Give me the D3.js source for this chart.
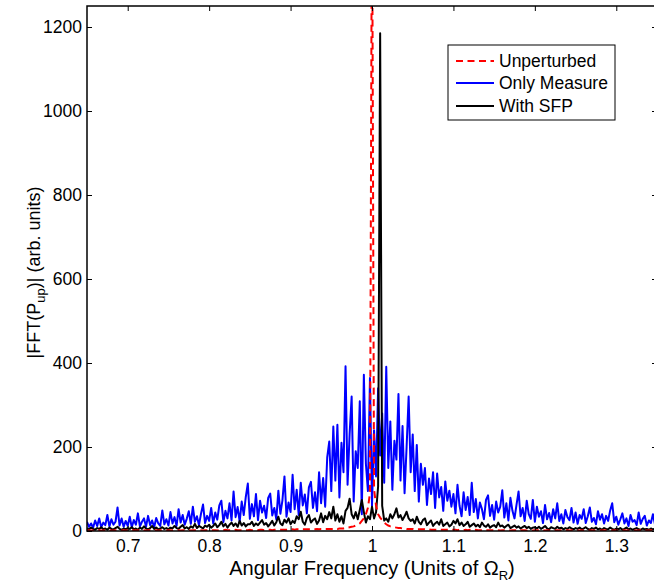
<!DOCTYPE html>
<html>
<head>
<meta charset="utf-8">
<script src="https://cdn.jsdelivr.net/npm/d3@7"></script>
<style>
    body { margin: 0; background: #fff; }
    svg { display: block; font-family: "Liberation Sans", Arial, Helvetica, sans-serif; }
</style>
</head>
<body>
<div id="fft-chart"></div>
<script>
// frequency grid (units of Omega_R)
var freq_start = 0.65;
var freq_step = 0.0025;

var unperturbed = [
    1, 2, 1, 1, 2, 1, 2, 1, 1, 2, 1, 2, 1, 1, 2, 1, 2, 1, 2, 1,
    2, 1, 2, 2, 1, 2, 1, 2, 2, 1, 2, 2, 1, 2, 2, 1, 2, 2, 2, 1,
    2, 2, 1, 2, 2, 2, 1, 2, 2, 2, 2, 1, 2, 2, 2, 2, 2, 1, 2, 2,
    2, 2, 2, 2, 1, 2, 2, 2, 3, 2, 2, 2, 2, 3, 2, 2, 2, 3, 2, 2,
    3, 2, 2, 3, 2, 3, 3, 2, 3, 3, 3, 2, 3, 3, 3, 3, 3, 3, 3, 3,
    3, 4, 3, 4, 4, 3, 4, 4, 4, 4, 4, 4, 4, 5, 4, 5, 5, 5, 5, 5,
    5, 5, 6, 5, 6, 6, 6, 7, 8, 9, 10, 11, 13, 15, 18, 24, 30, 40, 55, 90,
    1600, 100, 60, 40, 32, 26, 20, 16, 13, 11, 10, 9, 8, 7, 7, 6, 6, 5, 5, 5,
    5, 4, 4, 4, 4, 4, 4, 3, 4, 3, 3, 3, 3, 3, 3, 3, 3, 3, 3, 3,
    3, 3, 2, 3, 3, 2, 3, 2, 3, 2, 2, 3, 2, 2, 2, 3, 2, 2, 2, 2,
    2, 2, 2, 1, 2, 2, 2, 2, 1, 2, 2, 2, 1, 2, 2, 2, 1, 2, 2, 1,
    2, 2, 1, 2, 2, 1, 2, 1, 2, 2, 1, 2, 1, 2, 2, 1, 2, 1, 2, 1,
    2, 1, 1, 2, 1, 2, 1, 1, 2, 1, 1, 2, 1, 1, 2, 1, 1, 2, 1, 1,
    2, 1, 1, 1, 2, 1, 1, 1, 2, 1, 1, 1, 2, 1, 1, 1, 1, 2, 1, 1,
    1
];

var only_measure = [
    22, 10, 18, 8, 25, 12, 30, 9, 20, 14, 38, 11, 28, 15, 22, 56, 13, 30, 10, 24,
    12, 34, 9, 26, 15, 42, 11, 22, 30, 10, 36, 14, 25, 9, 31, 18, 12, 49, 16, 28,
    13, 45, 18, 33, 12, 52, 20, 38, 15, 29, 47, 17, 58, 22, 35, 14, 41, 63, 19, 36,
    24, 55, 18, 44, 27, 61, 72, 21, 48, 30, 66, 25, 94, 33, 57, 22, 70, 38, 81, 113,
    29, 64, 35, 88, 26, 72, 44, 60, 31, 79, 89, 37, 55, 28, 96, 41, 73, 130, 34, 68,
    45, 134, 52, 98, 38, 115, 61, 87, 42, 104, 117, 55, 92, 47, 140, 66, 126, 58, 175, 213,
    95, 249, 120, 253, 80, 210, 140, 392, 110, 230, 320, 70, 190, 150, 309, 40, 372, 160, 95, 364,
    60, 240, 130, 340, 180, 280, 115, 391, 150, 261, 98, 215, 170, 326, 120, 250, 90, 200, 320, 140,
    230, 95, 205, 70, 160, 110, 150, 62, 125, 88, 140, 55, 137, 80, 105, 48, 118, 72, 96, 58,
    88, 42, 110, 60, 35, 92, 50, 81, 38, 115, 45, 76, 30, 68, 52, 28, 74, 85, 36, 62,
    27, 70, 44, 58, 97, 32, 66, 25, 79, 48, 30, 63, 94, 35, 55, 24, 72, 40, 29, 74,
    22, 58, 34, 47, 19, 62, 28, 43, 21, 52, 30, 66, 24, 40, 18, 50, 33, 26, 55, 20,
    44, 17, 38, 29, 52, 19, 35, 56, 22, 31, 16, 47, 27, 40, 18, 36, 24, 49, 66, 21,
    34, 15, 28, 42, 18, 30, 12, 38, 22, 26, 14, 44, 17, 29, 36, 13, 25, 19, 40, 16,
    24
];

var with_sfp = [
    6, 4, 8, 5, 3, 7, 5, 9, 4, 6, 3, 8, 5, 4, 7, 10, 5, 3, 6, 4,
    7, 5, 9, 4, 6, 3, 8, 5, 11, 6, 4, 7, 12, 5, 8, 4, 6, 9, 5, 7,
    4, 8, 6, 12, 7, 5, 10, 14, 6, 9, 5, 11, 8, 17, 7, 12, 9, 6, 13, 10,
    15, 8, 12, 18, 9, 14, 22, 11, 17, 8, 15, 20, 12, 18, 10, 24, 13, 19, 11, 16,
    16, 22, 12, 18, 14, 20, 26, 15, 19, 11, 17, 24, 13, 21, 34, 18, 14, 27, 20, 30,
    16, 24, 19, 35, 28, 46, 22, 15, 31, 38, 20, 26, 30, 17, 25, 42, 21, 36, 28, 45,
    30, 58, 25, 40, 22, 35, 18, 48, 55, 77, 40, 30, 45, 28, 50, 74, 45, 20, 35, 28,
    58, 30, 45, 106, 1185, 60, 25, 30, 22, 40, 30, 40, 54, 32, 38, 26, 35, 46, 30, 24,
    28, 18, 34, 22, 16, 26, 30, 14, 20, 25, 12, 18, 22, 15, 28, 12, 16, 20, 11, 15,
    24, 18, 28, 14, 20, 12, 16, 22, 10, 14, 18, 11, 15, 9, 20, 13, 10, 16, 8, 12,
    14, 9, 20, 11, 13, 8, 12, 15, 7, 10, 13, 8, 11, 6, 9, 12, 7, 10, 5, 8,
    9, 6, 10, 5, 8, 12, 6, 4, 9, 7, 5, 10, 6, 8, 4, 7, 5, 9, 6, 4,
    7, 5, 8, 4, 6, 9, 5, 3, 7, 5, 8, 4, 6, 3, 7, 5, 4, 8, 5, 3,
    6, 4, 7, 3, 5, 8, 4, 6, 3, 5, 7, 4, 3, 6, 4, 5, 3, 6, 4, 5,
    4
];

var x_ticks = [0.7, 0.8, 0.9, 1, 1.1, 1.2, 1.3];
var y_ticks = [0, 200, 400, 600, 800, 1000, 1200];
var legend_labels = ["Unperturbed", "Only Measure", "With SFP"];
var series_colours = ["#ff0000", "#0000ff", "#000000"];

function draw_fft() {
    var width = 654, height = 584;
    var margin = { top: 6, left: 87 };
    var plot_w = 570, plot_h = 525;

    var svg = d3.select("#fft-chart")
        .append("svg")
        .attr("width", width)
        .attr("height", height);

    var g = svg.append("g")
        .attr("transform", "translate(" + margin.left + "," + margin.top + ")");

    var x = d3.scaleLinear().domain([0.65, 1.35]).range([0, plot_w]);
    var y = d3.scaleLinear().domain([0, 1250]).range([plot_h, 0]);

    var freq = unperturbed.map(function (d, i) { return freq_start + i * freq_step; });

    g.append("clipPath")
        .attr("id", "plot-clip")
        .append("rect")
        .attr("width", plot_w)
        .attr("height", plot_h);

    var line = d3.line()
        .x(function (d) { return x(d[0]); })
        .y(function (d) { return y(d[1]); });

    function pairs(values) {
        return values.map(function (v, i) { return [freq[i], v]; });
    }

    var lines = g.append("g").attr("clip-path", "url(#plot-clip)");

    // blue first, then black, the dashed red sits on top
    lines.append("path")
        .datum(pairs(only_measure))
        .attr("d", line)
        .attr("fill", "none")
        .attr("stroke", series_colours[1])
        .attr("stroke-width", 2)
        .attr("stroke-linejoin", "round");

    lines.append("path")
        .datum(pairs(with_sfp))
        .attr("d", line)
        .attr("fill", "none")
        .attr("stroke", series_colours[2])
        .attr("stroke-width", 2)
        .attr("stroke-linejoin", "round");

    lines.append("path")
        .datum(pairs(unperturbed))
        .attr("d", line)
        .attr("fill", "none")
        .attr("stroke", series_colours[0])
        .attr("stroke-width", 2)
        .attr("stroke-dasharray", "7,4.5");

    // axes, ticks pointing inward on all four sides
    function style_axis(sel) {
        sel.select(".domain").remove();
        sel.selectAll(".tick line").attr("stroke", "#000").attr("stroke-width", 1);
        sel.selectAll("text").attr("fill", "#000").style("font-size", "17.5px");
    }

    g.append("g")
        .attr("transform", "translate(0," + plot_h + ")")
        .call(d3.axisBottom(x).tickValues(x_ticks).tickFormat(d3.format(""))
            .tickSizeInner(-5).tickSizeOuter(0).tickPadding(8.5))
        .call(style_axis);

    g.append("g")
        .call(d3.axisTop(x).tickValues(x_ticks).tickFormat("")
            .tickSizeInner(-5).tickSizeOuter(0))
        .call(style_axis);

    g.append("g")
        .call(d3.axisLeft(y).tickValues(y_ticks).tickFormat(d3.format("d"))
            .tickSizeInner(-5).tickSizeOuter(0).tickPadding(5))
        .call(style_axis);

    g.append("g")
        .attr("transform", "translate(" + plot_w + ",0)")
        .call(d3.axisRight(y).tickValues(y_ticks).tickFormat("")
            .tickSizeInner(-5).tickSizeOuter(0))
        .call(style_axis);

    g.append("rect")
        .attr("width", plot_w)
        .attr("height", plot_h)
        .attr("fill", "none")
        .attr("stroke", "#000")
        .attr("stroke-width", 1.5);

    // legend
    var legend = svg.append("g").attr("transform", "translate(448,45)");
    legend.append("rect")
        .attr("width", 167)
        .attr("height", 75)
        .attr("fill", "#fff")
        .attr("stroke", "#000")
        .attr("stroke-width", 1);

    var legend_y = [16, 38, 61];
    legend_labels.forEach(function (label, i) {
        legend.append("line")
            .attr("x1", 8).attr("x2", 46)
            .attr("y1", legend_y[i]).attr("y2", legend_y[i])
            .attr("stroke", series_colours[i])
            .attr("stroke-width", 2)
            .attr("stroke-dasharray", i == 0 ? "7,4.5" : null);
        legend.append("text")
            .attr("x", 51)
            .attr("y", legend_y[i])
            .attr("dy", "0.35em")
            .style("font-size", "17.5px")
            .text(label);
    });

    // axis titles
    var xlab = svg.append("text")
        .attr("x", margin.left + x(1))
        .attr("y", 575)
        .attr("text-anchor", "middle")
        .style("font-size", "20px");
    xlab.append("tspan").text("Angular Frequency (Units of \u03A9");
    xlab.append("tspan").attr("dy", 5).style("font-size", "13px").text("R");
    xlab.append("tspan").attr("dy", -5).text(")");

    var ylab = svg.append("text")
        .attr("transform", "translate(40," + (margin.top + plot_h / 2 + 4) + ") rotate(-90)")
        .attr("text-anchor", "middle")
        .style("font-size", "18px");
    ylab.append("tspan").text("|FFT(P");
    ylab.append("tspan").attr("dy", 5).style("font-size", "13px").text("up");
    ylab.append("tspan").attr("dy", -5).text(")| (arb. units)");
}

draw_fft();
</script>
</body>
</html>
